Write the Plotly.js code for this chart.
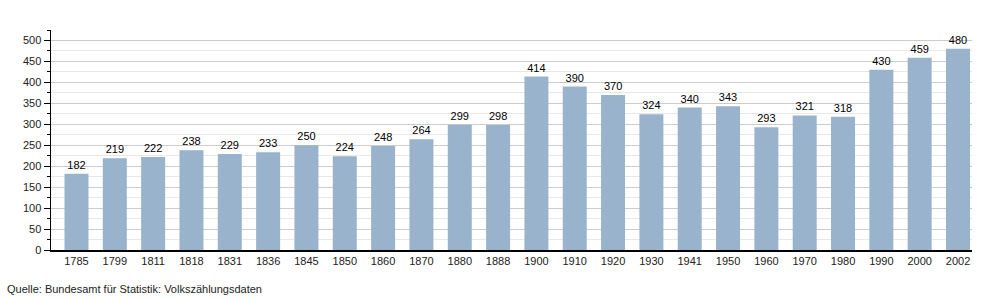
<!DOCTYPE html>
<html>
<head>
<meta charset="utf-8">
<script src="https://cdn.plot.ly/plotly-3.0.1.min.js"></script>
<style>html,body{margin:0;padding:0;background:#fff;}#chart{width:1000px;height:300px;}</style>
</head>
<body>
<div id="chart"></div>
<script>
var years = ["1785","1799","1811","1818","1831","1836","1845","1850","1860","1870","1880","1888","1900","1910","1920","1930","1941","1950","1960","1970","1980","1990","2000","2002"];
var population = [182,219,222,238,229,233,250,224,248,264,299,298,414,390,370,324,340,343,293,321,318,430,459,480];
var yTickVals = [0,50,100,150,200,250,300,350,400,450,500];
var sourceText = "Quelle: Bundesamt für Statistik: Volkszählungsdaten";

var trace = {
  type: 'bar',
  x: years,
  y: population,
  text: population.map(String),
  textposition: 'outside',
  textfont: {family: 'Liberation Sans, Arial, sans-serif', size: 11, color: '#000'},
  cliponaxis: false,
  marker: {color: '#9ab3cd', line: {width: 0}},
  hoverinfo: 'x+y'
};

var layout = {
  width: 1000, height: 300,
  margin: {l: 51, r: 28, t: 30, b: 50, pad: 0},
  paper_bgcolor: '#fff', plot_bgcolor: '#fff',
  showlegend: false,
  bargap: 0.374,
  font: {family: 'Liberation Sans, Arial, sans-serif', size: 11, color: '#222'},
  xaxis: {
    type: 'category',
    range: [-0.665, 23.365],
    showline: true, linecolor: '#000', linewidth: 1.5,
    ticks: '', showgrid: false, zeroline: false,
    tickfont: {size: 11, color: '#222'}
  },
  yaxis: {
    range: [0, 525],
    tickvals: yTickVals,
    ticks: 'outside', ticklen: 6, tickcolor: '#000', tickwidth: 1,
    showline: true, linecolor: '#000', linewidth: 1.5,
    showgrid: true, gridcolor: '#cccccc', gridwidth: 1,
    zeroline: false,
    tickfont: {size: 11, color: '#222'},
    minor: {dtick: 25, tick0: 0, ticks: 'outside', ticklen: 3, tickcolor: '#000', showgrid: true, gridcolor: '#e8e8e8', gridwidth: 1}
  },
  annotations: [{
    text: sourceText,
    xref: 'paper', yref: 'paper',
    x: 0, y: 0, xanchor: 'left', yanchor: 'middle',
    xshift: -46, yshift: -39,
    showarrow: false,
    font: {size: 11, color: '#222'}
  }]
};

Plotly.newPlot('chart', [trace], layout, {displayModeBar: false, staticPlot: true});
</script>
</body>
</html>
